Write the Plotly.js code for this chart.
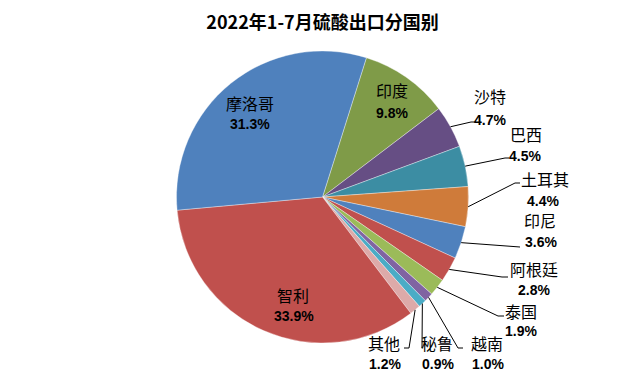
<!DOCTYPE html>
<html>
<head>
<meta charset="utf-8">
<script src="https://cdn.plot.ly/plotly-3.0.1.min.js"></script>
<style>html,body{margin:0;padding:0;background:#fff;}#chart{width:624px;height:378px;}</style>
</head>
<body>
<div id="chart"></div>
<script>
// ---- data ----
const categories = ['印度','沙特','巴西','土耳其','印尼','阿根廷','泰国','越南','秘鲁','其他','智利','摩洛哥'];
const shares = [9.8, 4.7, 4.5, 4.4, 3.6, 2.8, 1.9, 1.0, 0.9, 1.2, 33.9, 31.3];
const chartTitle = '2022年1-7月硫酸出口分国别';

// ---- styles / layout config ----
const colors = ['#7F9B48','#664E84','#3C8DA3','#CF7B3A','#4F81BD','#C0504D','#9BBB59','#8064A2','#4BACC6','#DDAAA9','#C0504D','#4F81BD'];
const W = 624, H = 378;
const CX = 322.5, CY = 197, R = 146;
const ROT = 17.5;
// label placement in pixels: name center, pct center, leader bend points (after the slice edge)
const place = [
  {nx:392, ny:90,  px:392, py:113, inside:true},
  {nx:490, ny:96,  px:490, py:120, lead:[[471,122],[476,122]]},
  {nx:526, ny:134, px:525, py:156, lead:[[505,158],[509,158]]},
  {nx:545, ny:179, px:543, py:201, lead:[[515,183],[520,183]]},
  {nx:540, ny:220, px:541, py:242, lead:[[520,247]]},
  {nx:534, ny:269, px:534, py:290, lead:[[502,277],[508,277]]},
  {nx:521, ny:311, px:521, py:331, lead:[[498,316],[504,316]]},
  {nx:487, ny:343, px:488, py:364, lead:[[458,348],[463,348]]},
  {nx:437, ny:343, px:438, py:364, lead:[[422,348]]},
  {nx:384, ny:343, px:385, py:364, lead:[[409,348],[404,348]]},
  {nx:293, ny:295, px:294, py:316, inside:true},
  {nx:250, ny:103, px:250, py:124, inside:true}
];

const fx = p => p / W;
const fy = p => 1 - p / H;

const total = shares.reduce((a,b)=>a+b,0);
let acc = 0;
const annotations = [];
const shapes = [];
const CJK = '"Noto Sans CJK SC", "Noto Sans", sans-serif';
shares.forEach((v,i)=>{
  const start = ROT + acc / total * 360;
  acc += v;
  const end = ROT + acc / total * 360;
  const mid = (start + end) / 2 * Math.PI / 180;
  const ex = CX + R * Math.sin(mid), ey = CY - R * Math.cos(mid);
  const pl = place[i];
  annotations.push({xref:'paper', yref:'paper', x:fx(pl.nx), y:fy(pl.ny), xanchor:'center', yanchor:'middle',
    text:categories[i], showarrow:false, borderpad:0, font:{family:CJK, size:16, color:'#000'}});
  annotations.push({xref:'paper', yref:'paper', x:fx(pl.px), y:fy(pl.py), xanchor:'center', yanchor:'middle',
    text:v.toFixed(1)+'%', showarrow:false, borderpad:0, font:{family:'Arial, "Liberation Sans", sans-serif', size:14, color:'#000', weight:'bold'}});
  if(!pl.inside){
    let path = 'M' + fx(ex) + ',' + fy(ey);
    pl.lead.forEach(p=>{ path += ' L' + fx(p[0]) + ',' + fy(p[1]); });
    shapes.push({type:'path', xref:'paper', yref:'paper', path:path, line:{color:'#000', width:1}});
  }
});

const trace = {
  type:'pie',
  labels:categories,
  values:shares,
  sort:false,
  direction:'clockwise',
  rotation:ROT,
  textinfo:'none',
  hoverinfo:'label+percent',
  marker:{colors:colors, line:{color:'rgba(255,255,255,0.6)', width:0.6}},
  domain:{x:[(CX-R)/W,(CX+R)/W], y:[1-(CY+R)/H, 1-(CY-R)/H]},
  showlegend:false
};

const layout = {
  width:W, height:H,
  margin:{l:0,r:0,t:0,b:0},
  paper_bgcolor:'#fff',
  title:{text:chartTitle, x:fx(322.5), xanchor:'center', y:fy(23), yanchor:'middle', yref:'container',
    font:{family:CJK, size:18, color:'#000', weight:'bold'}},
  annotations:annotations,
  shapes:shapes,
  showlegend:false
};

Plotly.newPlot('chart',[trace],layout,{displayModeBar:false, staticPlot:true});
</script>
</body>
</html>
